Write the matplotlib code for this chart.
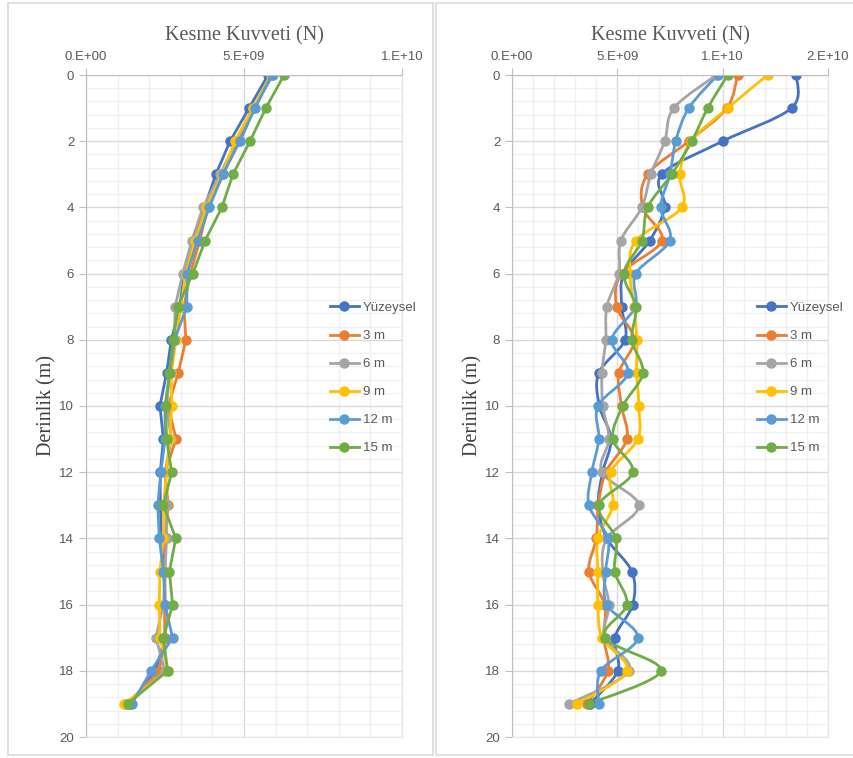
import matplotlib.pyplot as plt
import numpy as np
from matplotlib.path import Path
from matplotlib.patches import PathPatch, Rectangle
from matplotlib.ticker import FixedLocator, MultipleLocator, FuncFormatter

# depth (m)
depth = list(range(0, 20))
labels = ["Yüzeysel", "3 m", "6 m", "9 m", "12 m", "15 m"]
colors = ["#4472C4", "#ED7D31", "#A5A5A5", "#FFC000", "#5B9BD5", "#70AD47"]

# left chart, shear force in units of 1E9 N
left_yuzeysel = [5.76, 5.16, 4.56, 4.11, 3.75, 3.45, 3.10, 2.97, 2.70, 2.55, 2.34, 2.45, 2.35, 2.35, 2.40, 2.48, 2.50, 2.50, 2.20, 1.40]
left_3m = [5.85, 5.30, 4.80, 4.35, 3.85, 3.60, 3.30, 3.10, 3.16, 2.92, 2.60, 2.85, 2.50, 2.60, 2.50, 2.50, 2.50, 2.50, 2.32, 1.30]
left_6m = [5.92, 5.30, 4.75, 4.25, 3.70, 3.35, 3.06, 2.82, 2.80, 2.65, 2.55, 2.70, 2.50, 2.55, 2.55, 2.50, 2.45, 2.21, 2.50, 1.25]
left_9m = [5.85, 5.28, 4.71, 4.30, 3.80, 3.45, 3.15, 3.00, 2.85, 2.70, 2.71, 2.65, 2.55, 2.45, 2.45, 2.34, 2.32, 2.34, 2.60, 1.20]
left_12m = [5.88, 5.35, 4.87, 4.33, 3.90, 3.53, 3.20, 3.19, 2.80, 2.65, 2.50, 2.50, 2.37, 2.27, 2.32, 2.45, 2.50, 2.74, 2.06, 1.45]
left_15m = [6.27, 5.69, 5.19, 4.65, 4.30, 3.77, 3.38, 2.90, 2.76, 2.64, 2.52, 2.55, 2.71, 2.45, 2.84, 2.64, 2.74, 2.45, 2.58, 1.32]

# right chart, shear force in units of 1E9 N
right_yuzeysel = [13.50, 13.27, 10.00, 7.11, 7.25, 6.54, 5.30, 5.21, 5.36, 4.12, 4.15, 4.70, 4.30, 4.10, 4.50, 5.69, 5.73, 4.88, 5.02, 3.70]
right_3m = [10.71, 10.20, 8.39, 6.44, 6.20, 7.11, 5.20, 4.97, 5.80, 5.07, 5.20, 5.45, 4.45, 4.10, 4.00, 3.65, 4.40, 4.35, 4.55, 3.55]
right_6m = [9.70, 7.68, 7.25, 6.59, 6.16, 5.17, 5.07, 4.50, 4.45, 4.27, 4.31, 4.60, 4.27, 6.02, 4.50, 4.30, 4.60, 4.40, 5.55, 2.70]
right_9m = [12.13, 10.24, 8.50, 7.96, 8.06, 5.88, 5.60, 5.80, 5.92, 5.92, 6.02, 5.97, 4.69, 4.79, 4.08, 4.08, 4.08, 4.27, 5.45, 3.08]
right_12m = [9.76, 8.39, 7.77, 7.50, 7.06, 7.49, 5.88, 5.85, 4.74, 5.50, 4.08, 4.12, 3.79, 3.65, 4.55, 4.45, 4.50, 5.97, 4.22, 4.12]
right_15m = [10.24, 9.29, 8.53, 7.58, 6.44, 6.16, 5.31, 5.88, 5.69, 6.21, 5.26, 4.79, 5.73, 4.12, 4.93, 4.88, 5.45, 4.41, 7.06, 3.65]

left_series = [left_yuzeysel, left_3m, left_6m, left_9m, left_12m, left_15m]
right_series = [right_yuzeysel, right_3m, right_6m, right_9m, right_12m, right_15m]

grey_txt = "#595959"
plt.rcParams['font.family'] = ['Liberation Sans', 'DejaVu Sans']


def excel_label(v, pos=None):
    if v == 0:
        return "0.E+00"
    e = int(np.floor(np.log10(abs(v)) + 1e-9))
    m = int(round(v / 10 ** e))
    if m >= 10:
        m, e = 1, e + 1
    return f"{m}.E+{e:02d}"


def smooth_path(xs, ys):
    # bezier curve through the points (excel "smoothed line")
    pts = np.column_stack([xs, ys])
    n = len(pts)
    verts = [pts[0]]
    codes = [Path.MOVETO]
    for i in range(n - 1):
        p0 = pts[i - 1] if i > 0 else pts[i]
        p1 = pts[i]
        p2 = pts[i + 1]
        p3 = pts[i + 2] if i + 2 < n else pts[i + 1]
        c1 = p1 + (p2 - p0) / 6.0
        c2 = p2 - (p3 - p1) / 6.0
        verts += [c1, c2, p2]
        codes += [Path.CURVE4] * 3
    return Path(verts, codes)


def setup_axes(ax, xmax, xticks):
    ax.set_xlim(0, xmax)
    ax.set_ylim(20, 0)
    ax.xaxis.tick_top()
    ax.xaxis.set_major_locator(FixedLocator(xticks))
    ax.xaxis.set_minor_locator(MultipleLocator(1e9))
    ax.xaxis.set_major_formatter(FuncFormatter(excel_label))
    ax.yaxis.set_major_locator(MultipleLocator(2))
    ax.yaxis.set_minor_locator(MultipleLocator(0.4))
    ax.grid(which='major', color='#D9D9D9', lw=1.0)
    ax.grid(which='minor', color='#F0F0F0', lw=1.0)
    ax.set_axisbelow(True)
    for s in ['right', 'bottom']:
        ax.spines[s].set_color('#E6E6E6')
    for s in ['left', 'top']:
        ax.spines[s].set_color('#BFBFBF')
    ax.tick_params(which='major', colors='#BFBFBF', labelcolor=grey_txt, labelsize=9.5, length=5, direction='out')
    ax.tick_params(which='minor', length=0)
    ax.tick_params(axis='x', pad=4)
    ax.set_title("Kesme Kuvveti (N)", family='Liberation Serif', fontsize=14.5, color=grey_txt, pad=25)
    ax.set_ylabel("Derinlik (m)", family='Liberation Serif', fontsize=14.5, color='#404040', labelpad=2)


fig = plt.figure(figsize=(8.54, 7.58), dpi=100)
fig.patch.set_facecolor('white')

# chart borders
fig.patches.append(Rectangle((8 / 854, 3 / 758), 425 / 854, 752 / 758, transform=fig.transFigure,
                             fill=False, edgecolor='#D9D9D9', lw=1.2))
fig.patches.append(Rectangle((436 / 854, 3 / 758), 430 / 854, 752 / 758, transform=fig.transFigure,
                             fill=False, edgecolor='#D9D9D9', lw=1.2))

ax1 = fig.add_axes([86 / 854, 1 - 737 / 758, 316 / 854, 662 / 758])
ax2 = fig.add_axes([512 / 854, 1 - 737 / 758, 316 / 854, 662 / 758])

setup_axes(ax1, 1e10, [0, 5e9, 1e10])
setup_axes(ax2, 1.5e10, [0, 5e9, 1e10, 1.5e10])

for vals, c, lab in zip(left_series, colors, labels):
    x = np.array(vals) * 1e9
    ax1.plot(x, depth, color=c, lw=2, marker='o', ms=6.5, label=lab)

for vals, c, lab in zip(right_series, colors, labels):
    x = np.array(vals) * 1e9
    ax2.add_patch(PathPatch(smooth_path(x, depth), facecolor='none', edgecolor=c, lw=2))
    ax2.plot(x, depth, color=c, lw=2, marker='o', ms=6.5, ls='none')
    ax2.plot([], [], color=c, lw=2, marker='o', ms=6.5, label=lab)

for ax, lx in [(ax1, 318), (ax2, 745)]:
    leg = ax.legend(loc='upper left', bbox_to_anchor=(lx / 854, 1 - 290 / 758),
                    bbox_transform=fig.transFigure, frameon=False, fontsize=9.5,
                    labelspacing=1.2, handlelength=2.2, handletextpad=0.3)
    for t in leg.get_texts():
        t.set_color(grey_txt)

fig.savefig("out.png", dpi=100)
